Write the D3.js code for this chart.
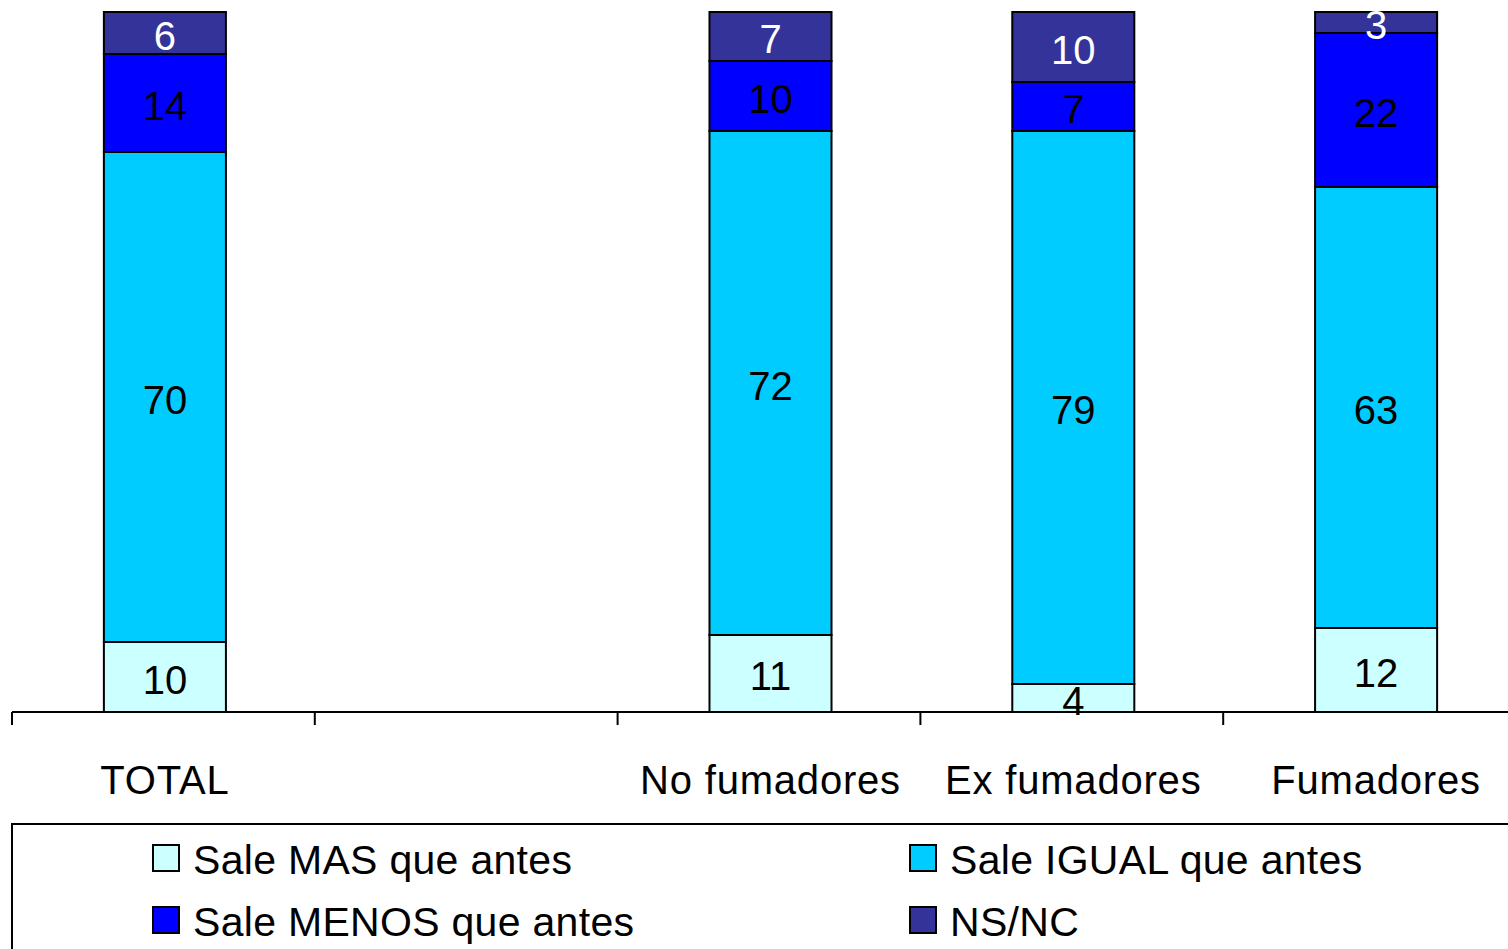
<!DOCTYPE html>
<html>
<head>
<meta charset="utf-8">
<script src="https://cdn.jsdelivr.net/npm/d3@7"></script>
<style>
html,body{margin:0;padding:0;background:#fff;}
svg{display:block;}
text{font-family:"Liberation Sans",Arial,sans-serif;}
</style>
</head>
<body>
<svg id="chart" width="1508" height="949"></svg>
<script>
const categories = ["TOTAL", "", "No fumadores", "Ex fumadores", "Fumadores"];
const seriesNames = ["Sale MAS que antes", "Sale IGUAL que antes", "Sale MENOS que antes", "NS/NC"];
const masValues   = [10, null, 11, 4, 12];
const igualValues = [70, null, 72, 79, 63];
const menosValues = [14, null, 10, 7, 22];
const nsncValues  = [6, null, 7, 10, 3];
const colors = ["#CCFFFF", "#00CCFF", "#0000FF", "#333399"];
const labelColors = ["#000", "#000", "#000", "#fff"];

const svg = d3.select("#chart");
const x = d3.scaleBand().domain(categories).range([12, 12 + 302.8 * 5]).padding(0);
const y = d3.scaleLinear().domain([0, 100]).range([712, 12]);

const rows = categories.map((c, i) => ({
  cat: c,
  s0: masValues[i], s1: igualValues[i], s2: menosValues[i], s3: nsncValues[i]
})).filter(d => d.s0 != null);

const stack = d3.stack().keys(["s0", "s1", "s2", "s3"]);
const layers = stack(rows);
const bw = x.bandwidth() * 0.403;
const cx = c => x(c) + x.bandwidth() / 2 + 1.5;

layers.forEach((layer, li) => {
  const g = svg.append("g");
  g.selectAll("rect").data(layer).enter().append("rect")
    .attr("x", d => cx(d.data.cat) - bw / 2)
    .attr("y", d => y(d[1]))
    .attr("width", bw)
    .attr("height", d => y(d[0]) - y(d[1]))
    .attr("fill", colors[li])
    .attr("stroke", "#000")
    .attr("stroke-width", 2);
});

// axis
const axis = d3.axisBottom(x).tickSize(0).tickFormat("");
const ag = svg.append("g").attr("transform", "translate(0,712)").call(axis);
ag.select(".domain").attr("stroke", "#000").attr("stroke-width", 2).attr("d", "M12,0H1508");
const boundaries = categories.map(c => x(c));
ag.selectAll(".bnd").data(boundaries).enter().append("line")
  .attr("x1", d => d).attr("x2", d => d).attr("y1", 0).attr("y2", 13)
  .attr("stroke", "#000").attr("stroke-width", 2);
svg.selectAll(".catlabel").data(categories).enter().append("text")
  .attr("x", d => cx(d))
  .attr("y", 794)
  .attr("text-anchor", "middle")
  .attr("font-size", 40)
  .attr("letter-spacing", 0.8)
  .attr("fill", "#000")
  .text(d => d);

// value labels
layers.forEach((layer, li) => {
  svg.append("g").selectAll("text").data(layer).enter().append("text")
    .attr("x", d => cx(d.data.cat))
    .attr("y", d => (y(d[0]) + y(d[1])) / 2)
    .attr("dy", "0.42em")
    .attr("text-anchor", "middle")
    .attr("font-size", 40)
    .attr("fill", labelColors[li])
    .text(d => d[1] - d[0]);
});

// legend
svg.append("rect").attr("x", 12).attr("y", 824).attr("width", 1520).attr("height", 150)
  .attr("fill", "none").attr("stroke", "#000").attr("stroke-width", 2);
const legPos = [[153, 858], [910, 858], [153, 920], [910, 920]];
seriesNames.forEach((s, i) => {
  const [lx, ly] = legPos[i];
  svg.append("rect").attr("x", lx).attr("y", ly - 13).attr("width", 26).attr("height", 26)
    .attr("fill", colors[i]).attr("stroke", "#000").attr("stroke-width", 2);
  svg.append("text").attr("x", lx + 40).attr("y", ly).attr("dy", "0.38em")
    .attr("font-size", 41).attr("letter-spacing", 0.3).attr("fill", "#000").text(s);
});
</script>
</body>
</html>
